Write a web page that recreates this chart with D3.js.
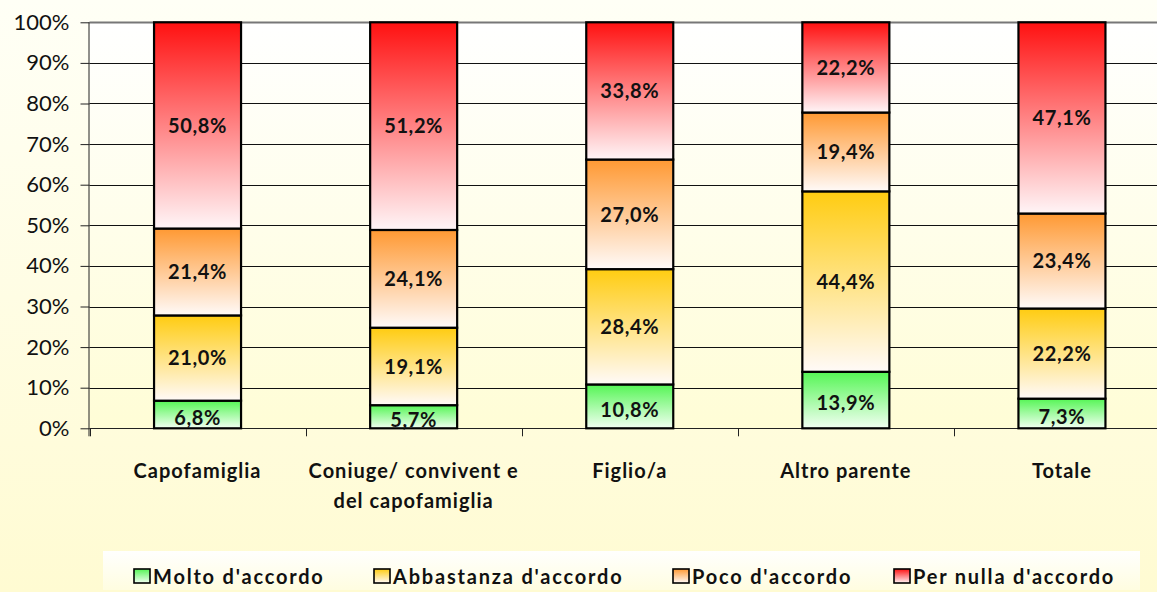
<!DOCTYPE html>
<html><head><meta charset="utf-8">
<script src="https://cdn.jsdelivr.net/npm/d3@7"></script>
<style>body{margin:0;padding:0;overflow:hidden}svg{display:block}</style>
</head><body>
<script>
const categories = [["Capofamiglia"], ["Coniuge/ convivent e", "del capofamiglia"], ["Figlio/a"], ["Altro parente"], ["Totale"]];
const seriesNames = ["Molto d'accordo", "Abbastanza d'accordo", "Poco d'accordo", "Per nulla d'accordo"];
const molto = [6.8, 5.7, 10.8, 13.9, 7.3];
const abbastanza = [21.0, 19.1, 28.4, 44.4, 22.2];
const poco = [21.4, 24.1, 27.0, 19.4, 23.4];
const perNulla = [50.8, 51.2, 33.8, 22.2, 47.1];
const yTicks = [0, 10, 20, 30, 40, 50, 60, 70, 80, 90, 100];

const W = 1157, H = 592;
const FONT = "Lato, 'Open Sans', sans-serif";
const svg = d3.select("body").append("svg").attr("width", W).attr("height", H);
const defs = svg.append("defs");
function vgrad(id, top, bottom) {
  const g = defs.append("linearGradient").attr("id", id).attr("x1", 0).attr("y1", 0).attr("x2", 0).attr("y2", 1);
  g.append("stop").attr("offset", "0%").attr("stop-color", top);
  g.append("stop").attr("offset", "100%").attr("stop-color", bottom);
}
vgrad("bg", "#fffff6", "#fffbd2");
vgrad("plotbg", "#ffffff", "#fffdd6");
vgrad("legbg", "#fffffe", "#fffde0");
const segColors = [["#55f555", "#f2fff2"], ["#ffcc11", "#fffaf8"], ["#ff9933", "#fffaf8"], ["#ff1111", "#fff5f7"]];
segColors.forEach((c, i) => vgrad("seg" + i, c[0], c[1]));

svg.append("rect").attr("width", W).attr("height", H).attr("fill", "url(#bg)");

const x0 = 89.5, bandW = 216.1;
const x = d3.scaleBand().domain(d3.range(categories.length)).range([x0, x0 + bandW * categories.length]).paddingInner(0).paddingOuter(0);
const y = d3.scaleLinear().domain([0, 100]).range([428.3, 22.3]);
const barW = 87;

svg.append("rect").attr("x", x0).attr("y", y(100)).attr("width", W - x0).attr("height", y(0) - y(100)).attr("fill", "url(#plotbg)");

// gridlines
svg.append("g").selectAll("line").data(yTicks.filter(d => d > 0)).join("line")
  .attr("x1", x0).attr("x2", W).attr("y1", d => Math.round(y(d)) + 0.5).attr("y2", d => Math.round(y(d)) + 0.5)
  .attr("stroke", d => d === 100 ? "#777" : "#111").attr("stroke-width", d => d === 100 ? 2 : 1);

// y axis
const yAxis = d3.axisLeft(y).tickValues(yTicks).tickFormat(d => d + "%").tickSize(9).tickPadding(11);
const ya = svg.append("g").attr("transform", `translate(${x0},0)`).call(yAxis);
ya.select(".domain").attr("stroke", "#222").attr("d", `M-0.5,${y(100)}V${y(0) + 8}`);
ya.selectAll(".tick line").attr("stroke", "#222");
ya.selectAll("text").attr("font-family", FONT).attr("font-size", 22).attr("fill", "#111");

// x axis line and ticks
svg.append("line").attr("x1", x0).attr("x2", W).attr("y1", Math.round(y(0)) + 0.5).attr("y2", Math.round(y(0)) + 0.5).attr("stroke", "#222");
svg.append("g").selectAll("line").data(d3.range(categories.length + 1)).join("line")
  .attr("x1", i => Math.round(x0 + i * bandW) + 0.5).attr("x2", i => Math.round(x0 + i * bandW) + 0.5)
  .attr("y1", y(0)).attr("y2", y(0) + 8).attr("stroke", "#222");

// stacked bars
const series = [molto, abbastanza, poco, perNulla];
categories.forEach((c, ci) => {
  const total = series.reduce((s, arr) => s + arr[ci], 0);
  let acc = 0;
  series.forEach((arr, si) => {
    const v = arr[ci] / total * 100;
    const y0 = y(acc), y1 = y(acc + v);
    acc += v;
    const cx = x(ci) + x.bandwidth() / 2;
    svg.append("rect").attr("x", cx - barW / 2).attr("y", y1).attr("width", barW).attr("height", y0 - y1)
      .attr("fill", `url(#seg${si})`).attr("stroke", "#000").attr("stroke-width", 2.2);
    svg.append("text").attr("x", cx).attr("y", (y0 + y1) / 2 + (si === 0 ? 3 : 0)).attr("dy", "0.36em")
      .attr("text-anchor", "middle").attr("font-family", FONT).attr("font-weight", "bold")
      .attr("font-size", 20).attr("letter-spacing", 0.6).attr("fill", "#111")
      .text(arr[ci].toFixed(1).replace(".", ",") + "%");
  });
});

// x labels
categories.forEach((lines, ci) => {
  const cx = x(ci) + x.bandwidth() / 2;
  lines.forEach((l, li) => {
    svg.append("text").attr("x", cx).attr("y", 478 + li * 30).attr("text-anchor", "middle")
      .attr("font-family", FONT).attr("font-weight", "bold").attr("font-size", 20).attr("letter-spacing", 1)
      .attr("fill", "#111").text(l);
  });
});

// legend
svg.append("rect").attr("x", 103).attr("y", 551).attr("width", 1037).attr("height", 39).attr("fill", "url(#legbg)");
const legX = [133, 373, 672, 893];
seriesNames.forEach((n, i) => {
  svg.append("rect").attr("x", legX[i] + 1).attr("y", 569).attr("width", 16).attr("height", 14)
    .attr("fill", `url(#seg${i})`).attr("stroke", "#000").attr("stroke-width", 1.6);
  svg.append("text").attr("x", legX[i] + 20).attr("y", 584).attr("font-family", FONT)
    .attr("font-weight", "bold").attr("font-size", 20).attr("letter-spacing", 1.8).attr("fill", "#111").text(n);
});
</script>
</body></html>
